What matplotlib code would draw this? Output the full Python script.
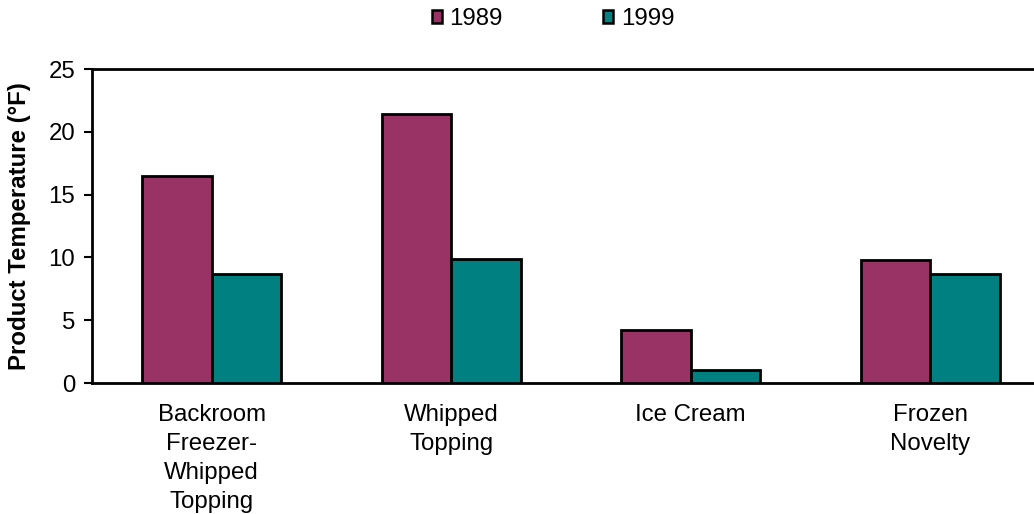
import matplotlib
matplotlib.use("Agg")
import matplotlib.pyplot as plt
import numpy as np
from matplotlib.patches import Patch

categories = ["Backroom\nFreezer-\nWhipped\nTopping", "Whipped\nTopping", "Ice Cream", "Frozen\nNovelty"]
series_names = ["1989", "1999"]
values_1989 = [16.5, 21.4, 4.2, 9.8]
values_1999 = [8.7, 9.9, 1.0, 8.7]
yticks = [0, 5, 10, 15, 20, 25]

plt.rcParams['font.family'] = ['Liberation Sans', 'DejaVu Sans']
FS = 17.3

fig = plt.figure(figsize=(10.34, 5.14), dpi=100)
ax = fig.add_axes([92/1034, 1 - 383/514, 958/1034, (383-69)/514])

x = np.arange(len(categories))
w = 0.29
c1, c2 = "#993366", "#008080"
ax.bar(x - w/2, values_1989, width=w, color=c1, edgecolor="black", linewidth=2, zorder=3)
ax.bar(x + w/2, values_1999, width=w, color=c2, edgecolor="black", linewidth=2, zorder=3)

ax.set_xlim(-0.5, 3.5)
ax.set_ylim(0, 25)
ax.set_yticks(yticks)
ax.set_yticklabels([str(t) for t in yticks], fontsize=FS)
ax.set_xticks(x)
ax.set_xticklabels(categories, fontsize=FS, linespacing=1.42)
ax.tick_params(axis='x', length=0, pad=15)
ax.tick_params(axis='y', length=6, width=1.5, direction='out', pad=6)
for s in ['top', 'left', 'bottom']:
    ax.spines[s].set_linewidth(2)
ax.spines['right'].set_visible(False)
ax.set_ylabel("Product Temperature (°F)", fontsize=FS, fontweight='bold', labelpad=13)

handles = [Patch(facecolor=c1, edgecolor='black', linewidth=1.8),
           Patch(facecolor=c2, edgecolor='black', linewidth=1.8)]
fig.legend(handles, series_names, loc='center', bbox_to_anchor=(553/1034, 1 - 19/514),
           ncol=2, frameon=False, fontsize=FS, handlelength=0.42, handleheight=0.42,
           handletextpad=0.3, columnspacing=4.2)

fig.savefig("out.png", dpi=100)
